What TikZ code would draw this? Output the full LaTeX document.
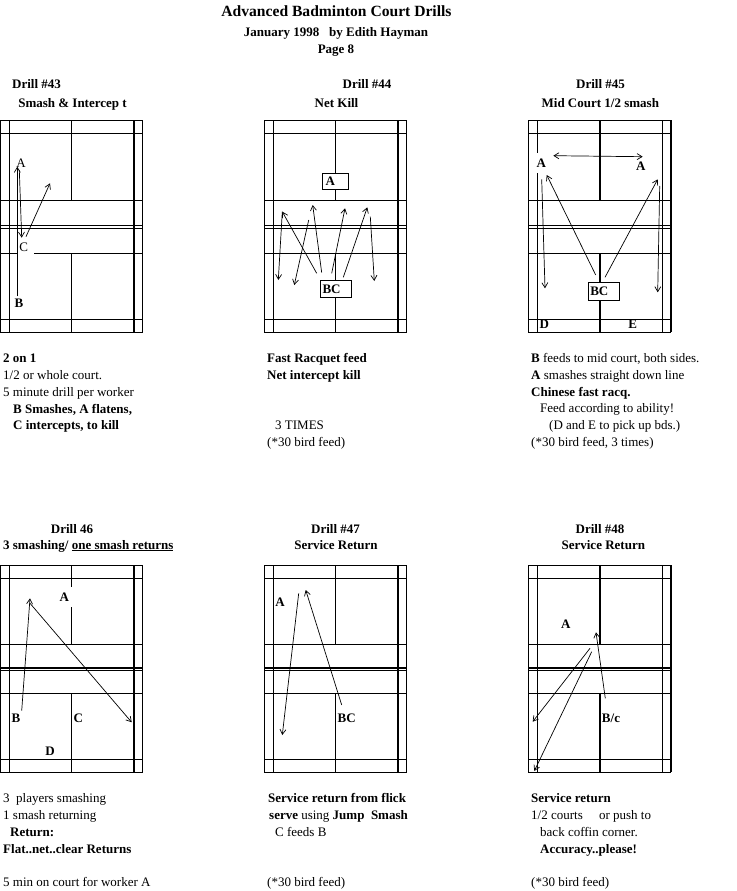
\documentclass[tikz,border=0pt]{standalone}
\usepackage{fontspec}
\setmainfont{Liberation Serif}
\usetikzlibrary{arrows.meta,positioning}

% One court: left edge, top, service line, net 1, net 2, service line, back line, bottom,
% then the width of net 1
\newcommand{\courtlines}[9]{%
    \draw[line width=1pt] (#1,#2) rectangle (#1+142,#8);
    \draw[line width=1pt] (#1,#2+13) -- (#1+142,#2+13);
    \draw[line width=1pt] (#1,#3) -- (#1+142,#3);
    \draw[line width=#9] (#1,#4) -- (#1+142,#4);
    \draw[line width=1pt] (#1,#5) -- (#1+142,#5);
    \draw[line width=1pt] (#1,#6) -- (#1+142,#6);
    \draw[line width=1pt] (#1,#7) -- (#1+142,#7);
    \draw[line width=1pt] (#1+9,#2) -- (#1+9,#8);
}

\begin{document}
\begin{tikzpicture}[
    x=1pt, y=-1pt,
    thinline/.style={line width=1pt},
    boldline/.style={line width=2pt},
    shot/.style={line width=0.7pt, -{Straight Barb[length=5pt,width=6pt]}},
    rally/.style={line width=0.7pt, {Straight Barb[length=5pt,width=6pt]}-{Straight Barb[length=5pt,width=6pt]}},
    heading/.style={font=\fontsize{13}{15}\selectfont\bfseries, inner sep=0pt, anchor=base},
    note/.style={font=\fontsize{13}{15}\selectfont, inner sep=0pt, anchor=base west},
    player/.style={font=\fontsize{13}{15}\selectfont, inner sep=0pt, fill=white, minimum width=15pt, minimum height=13pt},
    strongplayer/.style={player, font=\fontsize{13}{15}\selectfont\bfseries},
    playerbox/.style={draw, line width=1pt, fill=white, font=\fontsize{13}{15}\selectfont\bfseries, inner sep=0pt, align=left}
]
    \useasboundingbox (0,0) rectangle (736,891);

    % Title
    \node[heading, font=\fontsize{15.6}{18}\selectfont\bfseries] (title) at (336.5,17) {Advanced Badminton Court Drills};
    \node[heading] (date) at (336,36.5) {January 1998\ \ \ by Edith Hayman};
    \node[heading] (page) at (336,53) {Page 8};

    % Headings, top row
    \node[heading] (drill43) at (36.5,88.5) {Drill \#43};
    \node[heading] (name43) at (72.5,107) {Smash \& Intercep t};
    \node[heading] (drill44) at (367,88.5) {Drill \#44};
    \node[heading] (name44) at (336.5,107) {Net Kill};
    \node[heading] (drill45) at (600.5,88.5) {Drill \#45};
    \node[heading] (name45) at (600.3,107) {Mid Court 1/2 smash};

    % Headings, bottom row
    \node[heading] (drill46) at (72,533) {Drill 46};
    \node[heading] (name46) at (88.3,549) {3 smashing/ \underline{one smash returns}};
    \node[heading] (drill47) at (335.5,533) {Drill \#47};
    \node[heading] (name47) at (336,549) {Service Return};
    \node[heading] (drill48) at (600,533) {Drill \#48};
    \node[heading] (name48) at (603.3,549) {Service Return};

    % Drill 43
    \courtlines{0.5}{120}{200}{225}{228}{253}{319.5}{332}{1pt}
    \draw[thinline] (71,120) -- (71,200) (71,253) -- (71,332);
    \draw[boldline] (133.7,120) -- (133.7,332);
    \node[player, minimum width=13pt] (a43) at (21,163) {A};
    \node[player, minimum width=17pt, minimum height=14pt, text width=12pt, align=left] (c43) at (25.5,247) {C};
    \node[strongplayer, fill=none] (b43) at (19,303) {B};
    \coordinate (a43top) at (17.3,166.7);
    \coordinate (a43low) at (19.3,170);
    \coordinate (c43mid) at (21.7,237.7);
    \coordinate (c43out) at (26,236.7);
    \coordinate (c43end) at (50,183.3);
    \draw[shot] (b43.north -| a43top) -- (a43top);
    \draw[shot] (a43low) -- (c43mid);
    \draw[shot] (c43out) -- (c43end);

    % Drill 44
    \courtlines{264}{120}{200}{225}{228}{253}{319.5}{332}{1pt}
    \draw[thinline] (335,120) -- (335,200) (335,253) -- (335,332);
    \draw[boldline] (397.7,120) -- (397.7,332);
    \node[playerbox, minimum width=26pt, minimum height=16pt, text width=20pt] (a44) at (335.5,181.3) {A};
    \node[playerbox, minimum width=31pt, minimum height=17pt, text width=27pt] (bc44) at (336,289) {BC};
    \coordinate (p1) at (316.7,273.3);
    \coordinate (p2) at (282.3,211.7);
    \coordinate (p3) at (278.3,280);
    \coordinate (p4) at (321.7,272.7);
    \coordinate (p5) at (312.7,205);
    \coordinate (p6) at (308.7,220);
    \coordinate (p7) at (294.3,285);
    \coordinate (p8) at (331.7,273.3);
    \coordinate (p9) at (345,208.3);
    \coordinate (p10) at (343.3,277.3);
    \coordinate (p11) at (367.3,207.3);
    \coordinate (p12) at (370.3,216.7);
    \coordinate (p13) at (374.3,281);
    \draw[shot] (p1) -- (p2);
    \draw[shot] (p2) -- (p3);
    \draw[shot] (p4) -- (p5);
    \draw[shot] (p6) -- (p7);
    \draw[shot] (p8) -- (p9);
    \draw[shot] (p10) -- (p11);
    \draw[shot] (p12) -- (p13);

    % Drill 45
    \courtlines{528.3}{120}{200}{225}{228}{253}{319.5}{332}{1pt}
    \draw[boldline] (600,120) -- (600,200) (600,253) -- (600,332);
    \draw[thinline] (662.3,120) -- (662.3,332);
    \draw[boldline] (670.8,120) -- (670.8,332);
    \node[strongplayer, minimum height=20pt] (a45) at (541.3,163) {A};
    \node[strongplayer, fill=none] (b45) at (640.7,166) {A};
    \node[playerbox, minimum width=31pt, minimum height=18pt, text width=27pt] (bc45) at (603.8,291) {BC};
    \node[strongplayer, fill=none] (d45) at (544.3,324.5) {D};
    \node[strongplayer, fill=none] (e45) at (632.7,324.5) {E};
    \coordinate (q1) at (553.3,155.7);
    \coordinate (q2) at (642.7,156.7);
    \coordinate (q3) at (541.7,179.3);
    \coordinate (q4) at (545,288.3);
    \coordinate (q5) at (595.7,275);
    \coordinate (q6) at (546.7,175);
    \coordinate (q7) at (605,277.3);
    \coordinate (q8) at (657.7,179.3);
    \coordinate (q9) at (659.7,186);
    \coordinate (q10) at (657.7,292.3);
    \draw[rally] (q1) -- (q2);
    \draw[shot] (q3) -- (q4);
    \draw[shot] (q5) -- (q6);
    \draw[shot] (q7) -- (q8);
    \draw[shot] (q9) -- (q10);

    % Drill 46
    \courtlines{0.5}{565.3}{644.3}{668}{670.5}{693.3}{759.3}{772.3}{2pt}
    \draw[thinline] (71,565.3) -- (71,644.3) (71,693.3) -- (71,772.3);
    \draw[boldline] (133.7,565.3) -- (133.7,772.3);
    \node[strongplayer, minimum height=20pt] (a46) at (64.3,597) {A};
    \node[strongplayer, fill=none] (b46) at (16,718.3) {B};
    \node[strongplayer, fill=none] (c46) at (78.3,718.3) {C};
    \node[strongplayer, fill=none] (d46) at (50,751.7) {D};
    \coordinate (r1) at (21.7,710.7);
    \coordinate (r2) at (30,598.3);
    \coordinate (r3) at (30,603.3);
    \coordinate (r4) at (131.7,722.3);
    \draw[shot] (r1) -- (r2);
    \draw[shot] (r3) -- (r4);

    % Drill 47
    \courtlines{264}{565.3}{644.3}{668}{670.5}{693.3}{759.3}{772.3}{2pt}
    \draw[thinline] (335,565.3) -- (335,644.3) (335,693.3) -- (335,772.3);
    \draw[boldline] (397.7,565.3) -- (397.7,772.3);
    \node[strongplayer, fill=none] (a47) at (280,602.7) {A};
    \node[strongplayer, fill=none] (bc47) at (346.7,718.3) {BC};
    \coordinate (s1) at (298.7,593.3);
    \coordinate (s2) at (282.3,735);
    \coordinate (s3) at (341.7,705);
    \coordinate (s4) at (305.7,590);
    \draw[shot] (s1) -- (s2);
    \draw[shot] (s3) -- (s4);

    % Drill 48
    \courtlines{528.3}{565.3}{644.3}{668}{670.5}{693.3}{759.3}{772.3}{2pt}
    \draw[boldline] (600,565.3) -- (600,644.3) (600,693.3) -- (600,772.3);
    \draw[thinline] (662.3,565.3) -- (662.3,772.3);
    \draw[boldline] (670.8,565.3) -- (670.8,772.3);
    \node[strongplayer, fill=none] (a48) at (565.7,624.3) {A};
    \node[strongplayer, fill=none] (bc48) at (611,718.3) {B/c};
    \coordinate (t1) at (605.3,698.3);
    \coordinate (t2) at (596,632.3);
    \coordinate (t3) at (590,648.3);
    \coordinate (t4) at (532.7,721.7);
    \coordinate (t5) at (591.7,651.7);
    \coordinate (t6) at (534.3,771);
    \draw[shot] (t1) -- (t2);
    \draw[shot] (t3) -- (t4);
    \draw[shot] (t5) -- (t6);

    % Notes, top row
    \node[note] (n1) at (3,362) {\textbf{2 on 1}};
    \node[note] (n2) at (3,379) {1/2 or whole court.};
    \node[note] (n3) at (3,396) {5 minute drill per worker};
    \node[note] (n4) at (13,413) {\textbf{B Smashes, A flatens,}};
    \node[note] (n5) at (13,429) {\textbf{C intercepts, to kill}};
    \node[note] (n6) at (267,362) {\textbf{Fast Racquet feed}};
    \node[note] (n7) at (267,379) {\textbf{Net intercept kill}};
    \node[note] (n8) at (275,429) {3 TIMES};
    \node[note] (n9) at (267,446) {(*30 bird feed)};
    \node[note] (n10) at (531,362) {\textbf{B} feeds to mid court, both sides.};
    \node[note] (n11) at (531,379) {\textbf{A} smashes straight down line};
    \node[note] (n12) at (531,396) {\textbf{Chinese fast racq.}};
    \node[note] (n13) at (540,412) {Feed according to ability!};
    \node[note] (n14) at (549,429) {(D and E to pick up bds.)};
    \node[note] (n15) at (531,446) {(*30 bird feed, 3 times)};

    % Notes, bottom row
    \node[note] (n16) at (3,802) {3\ \ players smashing};
    \node[note] (n17) at (3,819) {1 smash returning};
    \node[note] (n18) at (10,836) {\textbf{Return:}};
    \node[note] (n19) at (3,853) {\textbf{Flat..net..clear Returns}};
    \node[note] (n20) at (3,886) {5 min on court for worker A};
    \node[note] (n21) at (268,802) {\textbf{Service return from flick}};
    \node[note] (n22) at (269,819) {\textbf{serve} using \textbf{Jump\ \ Smash}};
    \node[note] (n23) at (275,836) {C feeds B};
    \node[note] (n24) at (267,886) {(*30 bird feed)};
    \node[note] (n25) at (531,802) {\textbf{Service return}};
    \node[note] (n26) at (531,819) {1/2 courts\ \ \ \ \ or push to};
    \node[note] (n27) at (540,836) {back coffin corner.};
    \node[note] (n28) at (540,853) {\textbf{Accuracy..please!}};
    \node[note] (n29) at (531,886) {(*30 bird feed)};
\end{tikzpicture}
\end{document}
